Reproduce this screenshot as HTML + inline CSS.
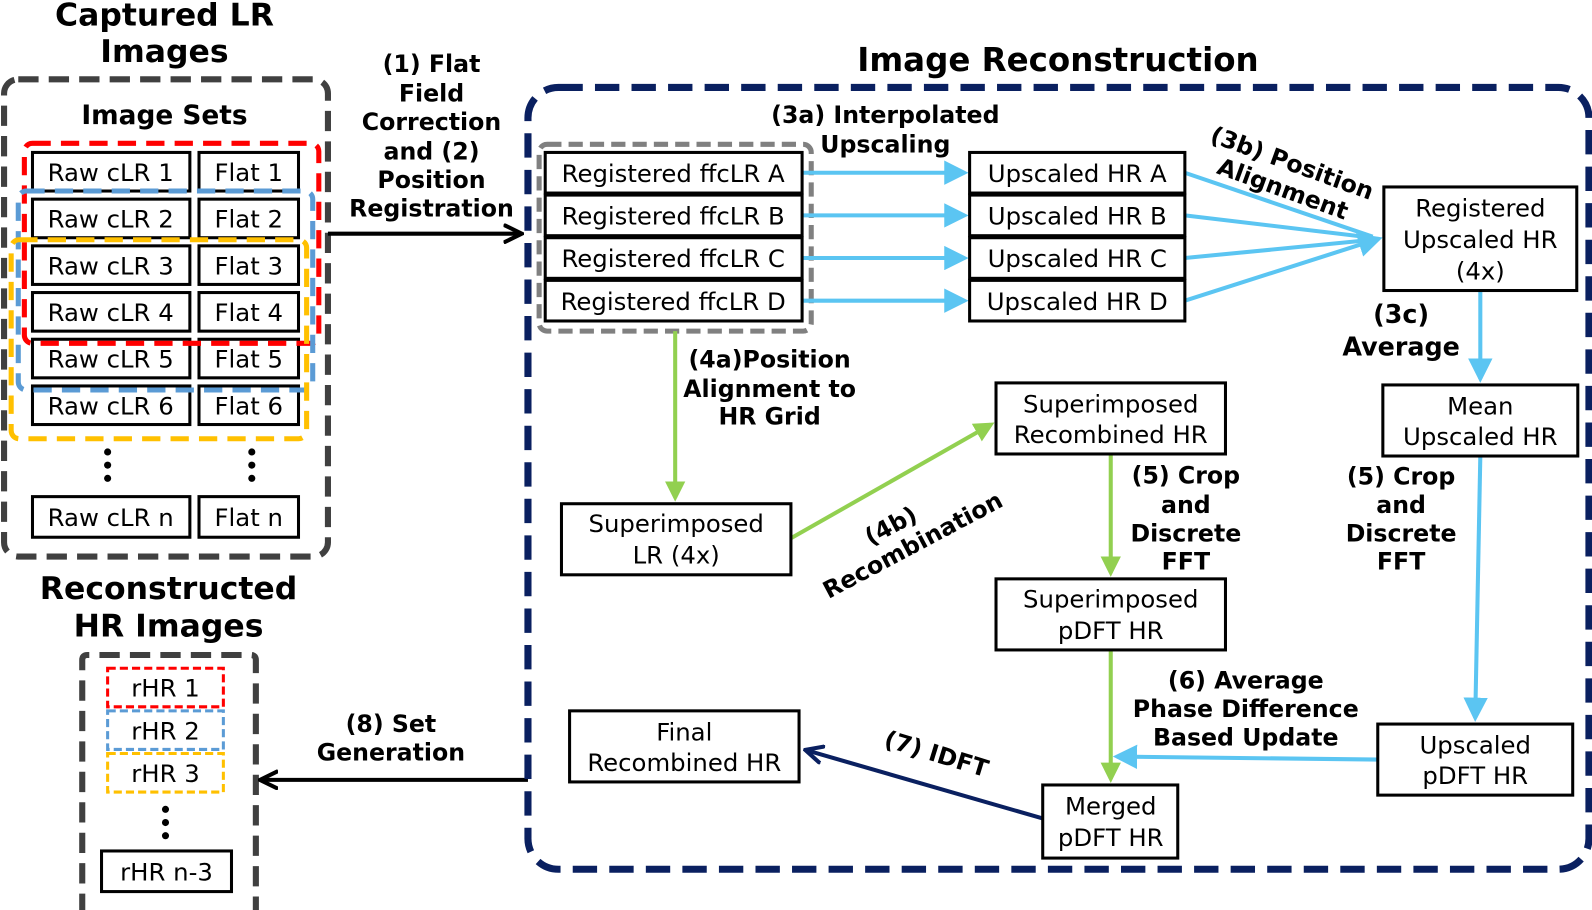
<!DOCTYPE html>
<html><head><meta charset="utf-8"><style>html,body{margin:0;padding:0;background:#fff}svg{display:block}</style></head><body>
<svg width="1592" height="910" viewBox="0 0 1568 896" xmlns="http://www.w3.org/2000/svg" font-family="DejaVu Sans, Liberation Sans, sans-serif">
<defs>
<marker id="ab" markerWidth="6" markerHeight="6" refX="5" refY="3" orient="auto" markerUnits="strokeWidth"><path d="M0,0 L6,3 L0,6 Z" fill="#5bc5f2"/></marker>
<marker id="ag" markerWidth="5" markerHeight="5" refX="4" refY="2.5" orient="auto" markerUnits="strokeWidth"><path d="M0,0 L5,2.5 L0,5 Z" fill="#92d050"/></marker>
<marker id="ak" markerWidth="5" markerHeight="5" refX="4" refY="2.5" orient="auto" markerUnits="strokeWidth"><path d="M0,0.3 L4.5,2.5 L0,4.7" fill="none" stroke="#000" stroke-width="1"/></marker>
<marker id="an" markerWidth="5" markerHeight="5" refX="4" refY="2.5" orient="auto" markerUnits="strokeWidth"><path d="M0,0.3 L4.5,2.5 L0,4.7" fill="none" stroke="#0a2060" stroke-width="1"/></marker>
</defs>
<g font-weight="bold" text-anchor="middle" font-size="31">
<text x="162" y="25">Captured LR</text><text x="162" y="61">Images</text>
<text x="166" y="590">Reconstructed</text><text x="166" y="627">HR Images</text>
<text x="1042" y="70" font-size="32">Image Reconstruction</text>
</g>
<rect x="4" y="78" width="319" height="470" rx="14" fill="none" stroke="#404040" stroke-width="6" stroke-dasharray="20 10"/>
<text x="162" y="122" font-weight="bold" font-size="26" text-anchor="middle">Image Sets</text>
<g fill="#fff" stroke="#000" stroke-width="3">
<rect x="32" y="150" width="155" height="38"/><rect x="196" y="150" width="98" height="38"/>
<rect x="32" y="196" width="155" height="38"/><rect x="196" y="196" width="98" height="38"/>
<rect x="32" y="242" width="155" height="38"/><rect x="196" y="242" width="98" height="38"/>
<rect x="32" y="288" width="155" height="38"/><rect x="196" y="288" width="98" height="38"/>
<rect x="32" y="334" width="155" height="38"/><rect x="196" y="334" width="98" height="38"/>
<rect x="32" y="380" width="155" height="38"/><rect x="196" y="380" width="98" height="38"/>
<rect x="32" y="489" width="155" height="40"/><rect x="196" y="489" width="98" height="40"/>
</g>
<g font-size="24" text-anchor="middle">
<text x="109" y="178">Raw cLR 1</text><text x="245" y="178">Flat 1</text>
<text x="109" y="224">Raw cLR 2</text><text x="245" y="224">Flat 2</text>
<text x="109" y="270">Raw cLR 3</text><text x="245" y="270">Flat 3</text>
<text x="109" y="316">Raw cLR 4</text><text x="245" y="316">Flat 4</text>
<text x="109" y="362">Raw cLR 5</text><text x="245" y="362">Flat 5</text>
<text x="109" y="408">Raw cLR 6</text><text x="245" y="408">Flat 6</text>
<text x="109" y="518">Raw cLR n</text><text x="245" y="518">Flat n</text>
</g>
<rect x="24" y="141" width="290" height="197" rx="8" fill="none" stroke="#ff0000" stroke-width="5" stroke-dasharray="18 10"/>
<rect x="18" y="188" width="290" height="196" rx="8" fill="none" stroke="#5b9bd5" stroke-width="5" stroke-dasharray="18 10"/>
<rect x="11" y="236" width="291" height="196" rx="8" fill="none" stroke="#ffc000" stroke-width="5" stroke-dasharray="18 10"/>
<g fill="#000"><circle cx="106" cy="445" r="3.5"/><circle cx="106" cy="458" r="3.5"/><circle cx="106" cy="471" r="3.5"/>
<circle cx="248" cy="445" r="3.5"/><circle cx="248" cy="458" r="3.5"/><circle cx="248" cy="471" r="3.5"/>
<circle cx="163" cy="797" r="3.5"/><circle cx="163" cy="810" r="3.5"/><circle cx="163" cy="823" r="3.5"/></g>
<path d="M81,900 V650 Q81,645 86,645 H247 Q252,645 252,650 V900" fill="none" stroke="#404040" stroke-width="6" stroke-dasharray="20 10"/>
<rect x="106" y="658" width="114" height="38" fill="none" stroke="#ff0000" stroke-width="3" stroke-dasharray="8 4"/>
<rect x="106" y="700" width="114" height="38" fill="none" stroke="#5b9bd5" stroke-width="3" stroke-dasharray="8 4"/>
<rect x="106" y="742" width="114" height="38" fill="none" stroke="#ffc000" stroke-width="3" stroke-dasharray="8 4"/>
<rect x="100" y="838" width="128" height="40" fill="none" stroke="#000" stroke-width="3"/>
<g font-size="24" text-anchor="middle">
<text x="163" y="686">rHR 1</text><text x="163" y="728">rHR 2</text><text x="163" y="770">rHR 3</text><text x="164" y="867">rHR n-3</text>
</g>
<line x1="323" y1="230" x2="512" y2="230" stroke="#000" stroke-width="4" marker-end="url(#ak)"/>
<line x1="520" y1="768" x2="258" y2="768" stroke="#000" stroke-width="4" marker-end="url(#ak)"/>
<g font-weight="bold" font-size="23.3" text-anchor="middle">
<text x="425" y="71">(1) Flat</text><text x="425" y="100">Field</text><text x="425" y="128">Correction</text><text x="425" y="157">and (2)</text><text x="425" y="185">Position</text><text x="425" y="213">Registration</text>
<text x="385" y="721">(8) Set</text><text x="385" y="749">Generation</text>
<text x="872" y="121">(3a) Interpolated</text><text x="872" y="150">Upscaling</text>
<text x="1380" y="318" font-size="25">(3c)</text><text x="1380" y="350" font-size="25">Average</text>
<text x="1380" y="477">(5) Crop</text><text x="1380" y="505">and</text><text x="1380" y="533">Discrete</text><text x="1380" y="561">FFT</text>
<text x="1168" y="476">(5) Crop</text><text x="1168" y="505">and</text><text x="1168" y="533">Discrete</text><text x="1168" y="561">FFT</text>
<text x="1227" y="678">(6) Average</text><text x="1227" y="706">Phase Difference</text><text x="1227" y="734">Based Update</text>
<text x="758" y="362">(4a)Position</text><text x="758" y="391">Alignment to</text><text x="758" y="418">HR Grid</text>
<g transform="translate(1270,168) rotate(20)"><text x="0" y="0">(3b) Position</text><text x="0" y="27">Alignment</text></g>
<g transform="translate(890,520) rotate(-28)"><text x="-10" y="0">(4b)</text><text x="0" y="27">Recombination</text></g>
<g transform="translate(920,750) rotate(17)"><text x="0" y="0">(7) IDFT</text></g>
</g>
<rect x="520" y="86" width="1045" height="770" rx="30" fill="none" stroke="#0a2060" stroke-width="7" stroke-dasharray="24 12"/>
<rect x="531" y="142" width="268" height="184" rx="8" fill="none" stroke="#808080" stroke-width="5" stroke-dasharray="14 7"/>
<g stroke="#5bc5f2" stroke-width="4" fill="none">
<line x1="790" y1="170" x2="950" y2="170" marker-end="url(#ab)"/>
<line x1="790" y1="212" x2="950" y2="212" marker-end="url(#ab)"/>
<line x1="790" y1="254" x2="950" y2="254" marker-end="url(#ab)"/>
<line x1="790" y1="296" x2="950" y2="296" marker-end="url(#ab)"/>
<line x1="1167" y1="170" x2="1352" y2="233"/>
<line x1="1167" y1="212" x2="1352" y2="234"/>
<line x1="1167" y1="254" x2="1352" y2="236"/>
<line x1="1167" y1="296" x2="1358" y2="235" marker-end="url(#ab)"/>
<line x1="1458" y1="286" x2="1458" y2="373" marker-end="url(#ab)"/>
<line x1="1458" y1="449" x2="1453" y2="707" marker-end="url(#ab)"/>
<line x1="1357" y1="748" x2="1100" y2="745" marker-end="url(#ab)"/>
</g>
<g stroke="#92d050" stroke-width="4" fill="none">
<line x1="665" y1="326" x2="665" y2="490" marker-end="url(#ag)"/>
<line x1="779" y1="530" x2="976" y2="418" marker-end="url(#ag)"/>
<line x1="1094" y1="447" x2="1094" y2="564" marker-end="url(#ag)"/>
<line x1="1094" y1="640" x2="1094" y2="767" marker-end="url(#ag)"/>
</g>
<line x1="1027" y1="806" x2="795" y2="739" stroke="#0a2060" stroke-width="4" marker-end="url(#an)"/>
<g fill="#fff" stroke="#000" stroke-width="3">
<rect x="537" y="150" width="253" height="40"/><rect x="537" y="192" width="253" height="40"/>
<rect x="537" y="234" width="253" height="40"/><rect x="537" y="276" width="253" height="40"/>
<rect x="955" y="150" width="212" height="40"/><rect x="955" y="192" width="212" height="40"/>
<rect x="955" y="234" width="212" height="40"/><rect x="955" y="276" width="212" height="40"/>
<rect x="1363" y="184" width="190" height="102"/>
<rect x="1362" y="379" width="192" height="70"/>
<rect x="1357" y="713" width="192" height="70"/>
<rect x="553" y="496" width="226" height="70"/>
<rect x="981" y="377" width="226" height="70"/>
<rect x="981" y="570" width="226" height="70"/>
<rect x="1027" y="773" width="133" height="72"/>
<rect x="561" y="700" width="226" height="70"/>
</g>
<g font-size="24" text-anchor="middle">
<text x="663" y="179">Registered ffcLR A</text><text x="663" y="221">Registered ffcLR B</text>
<text x="663" y="263">Registered ffcLR C</text><text x="663" y="305">Registered ffcLR D</text>
<text x="1061" y="179">Upscaled HR A</text><text x="1061" y="221">Upscaled HR B</text>
<text x="1061" y="263">Upscaled HR C</text><text x="1061" y="305">Upscaled HR D</text>
<text x="1458" y="213">Registered</text><text x="1458" y="244">Upscaled HR</text><text x="1458" y="275">(4x)</text>
<text x="1458" y="408">Mean</text><text x="1458" y="438">Upscaled HR</text>
<text x="1453" y="742">Upscaled</text><text x="1453" y="772">pDFT HR</text>
<text x="666" y="524">Superimposed</text><text x="666" y="555">LR (4x)</text>
<text x="1094" y="406">Superimposed</text><text x="1094" y="436">Recombined HR</text>
<text x="1094" y="598">Superimposed</text><text x="1094" y="629">pDFT HR</text>
<text x="1094" y="802">Merged</text><text x="1094" y="833">pDFT HR</text>
<text x="674" y="729">Final</text><text x="674" y="759">Recombined HR</text>
</g>
</svg>
</body></html>
